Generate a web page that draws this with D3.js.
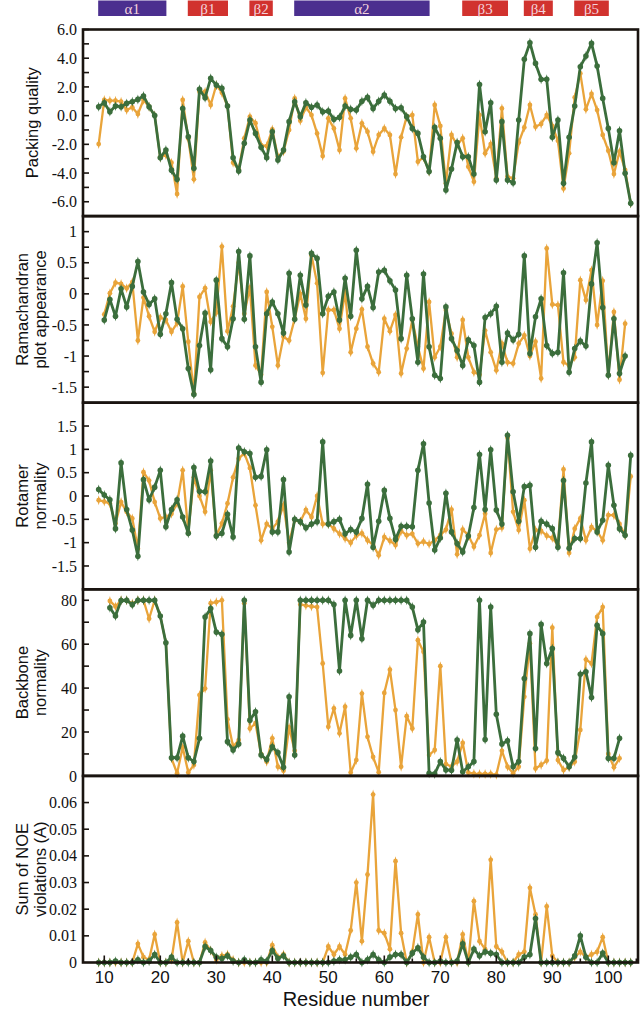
<!DOCTYPE html>
<html><head><meta charset="utf-8">
<script src="https://cdn.jsdelivr.net/npm/d3@7"></script>
<style>body{margin:0;background:#fff}</style>
</head><body><svg id="c" width="644" height="1009"></svg>
<script>
// ---------------- DATA ----------------
const residues = [9,10,11,12,13,14,15,16,17,18,19,20,21,22,23,24,25,26,27,28,29,30,31,32,33,34,35,36,37,38,39,40,41,42,43,44,45,46,47,48,49,50,51,52,53,54,55,56,57,58,59,60,61,62,63,64,65,66,67,68,69,70,71,72,73,74,75,76,77,78,79,80,81,82,83,84,85,86,87,88,89,90,91,92,93,94,95,96,97,98,99,100,101,102,103,104];

const packingGreen = [0.62,0.9,0.27,0.67,0.62,0.85,0.97,1.13,1.37,0.62,
0.0,-2.93,-2.4,-3.8,-4.44,0.5,-1.47,-3.67,1.83,1.25,
2.6,2.13,1.9,0.67,-2.93,-3.86,-1.93,-0.31,-1.24,-2.2,
-2.93,-1.12,-3.09,-2.4,-0.42,0.97,-0.07,0.9,0.58,0.74,
0.27,0.32,-0.26,-0.12,0.67,0.44,0.39,1.0,1.27,0.5,
1.0,1.44,1.0,0.5,0.55,-0.07,-0.89,-1.24,-2.86,-3.9,
-0.82,-1.58,-5.18,-3.72,-1.88,-2.86,-2.86,-4.07,2.17,-1.12,
0.9,-4.49,-0.42,-4.49,-4.68,-0.3,3.92,5.08,3.64,2.53,
2.53,-1.51,-0.3,-4.72,-1.51,0.67,3.41,4.15,5.03,3.46,
1.2,-0.89,-3.28,-1.05,-4.02,-6.11];
const packingOrange = [-1.98,1.09,1.04,1.04,0.97,0.39,0.58,0.11,1.09,0.62,
0.0,-2.9,-2.75,-3.28,-5.46,1.09,-1.6,-4.44,1.67,1.67,
0.74,2.13,1.6,0.67,-3.28,-3.75,-1.58,-0.07,-0.53,-2.05,
-2.12,-0.96,-2.86,-2.5,-1.0,1.2,-0.35,0.58,0.04,-1.24,
-2.82,-0.19,-0.89,-2.4,1.2,-0.19,-2.28,-0.54,-1.12,-2.51,
-1.35,-0.89,-1.35,-4.07,-1.51,-0.07,0.04,-3.21,-2.91,-3.9,
0.74,-0.72,-4.72,-1.35,-2.05,-1.58,-3.56,-4.6,0.04,-2.63,
-1.98,-4.37,0.5,-4.25,-4.37,-1.88,-0.82,0.74,-0.77,-0.58,
0.04,-0.72,-1.75,-5.07,-2.63,1.27,2.94,0.44,1.51,0.39,
-1.35,-2.44,-4.07,-2.51,-3.79,-6.11];

const ramaGreen = [null,-0.42,-0.09,-0.36,0.08,-0.21,0.12,0.52,0.03,-0.17,
-0.08,-0.65,-0.32,0.18,-0.41,-0.56,-1.2,-1.62,-0.83,-0.31,
-1.22,0.22,-0.72,-0.85,-0.4,0.68,-0.41,0.61,-0.85,-1.42,
-0.32,-0.13,-0.32,-0.63,0.33,-0.41,0.3,-0.18,0.65,0.57,
-0.32,-0.04,0.03,-0.42,0.25,-0.36,0.7,-0.08,0.12,-0.22,
0.35,0.38,0.21,0.06,-0.72,0.3,-0.4,-1.1,0.32,-0.85,
-1.31,-1.36,-0.21,-0.72,-0.91,-1.15,-0.74,-0.83,-1.42,-0.38,
-0.32,-0.2,-1.1,-0.63,-0.74,-0.65,0.61,-0.96,-0.37,-0.08,
-0.83,-0.96,-0.94,0.34,-1.26,-0.88,-0.76,-0.84,0.16,0.82,
-0.22,-1.31,-0.4,-1.28,-1.0,null];
const ramaOrange = [null,-0.33,0.01,0.18,0.16,0.09,0.19,-0.75,-0.06,-0.36,
-0.61,-0.38,-0.42,-0.61,-0.47,0.12,-0.77,-1.6,-0.05,0.09,
-0.45,-0.3,0.76,-0.6,-0.2,0.5,-0.32,0.1,-1.15,-1.3,
0.03,-0.53,-1.15,-0.69,-0.75,-0.4,0.0,-0.4,0.62,0.17,
-1.27,-0.26,-0.26,-0.56,0.03,-0.94,-0.56,-0.25,-0.85,-1.12,
-1.26,-0.4,-0.6,-0.34,-1.28,-0.88,-0.42,-0.85,-1.2,-0.13,
-1.02,-0.85,-0.26,-0.64,-1.02,-0.42,-1.02,-1.26,-1.3,-0.59,
-0.94,-1.23,-0.8,-1.1,-1.12,-0.8,-0.67,-1.0,-0.77,-1.36,
0.73,-0.17,-0.18,-1.1,-1.15,-1.02,0.22,-0.1,0.38,-0.5,
0.21,-1.3,-0.29,-1.38,-0.48,null];

const rotaGreen = [0.14,0.02,-0.08,-0.7,0.71,-0.29,-0.73,-1.29,0.35,-0.08,
0.19,0.55,-0.66,-0.29,-0.08,-0.45,-0.8,0.61,0.1,0.09,
0.75,-0.86,-0.8,-0.39,-0.88,1.03,0.95,0.91,0.4,0.42,
0.99,-0.77,-0.77,0.35,-1.2,-0.5,-0.55,-0.68,-0.6,-0.55,
1.16,-0.6,-0.55,-0.5,-0.81,-0.72,-0.77,-0.48,0.25,-1.1,
-0.54,0.12,-0.48,-0.93,-0.65,-0.65,-0.66,0.55,1.12,-0.15,
-1.16,-0.9,0.06,-0.77,-1.02,-1.2,-0.86,-0.25,0.89,-0.29,
0.99,-0.3,-0.6,1.3,0.09,-0.54,0.2,0.23,-1.1,-0.54,
-0.6,-0.7,-1.1,0.33,-1.12,-0.91,-0.91,0.28,1.16,-0.77,
-0.52,0.66,-0.2,-0.7,-0.84,0.87];
const rotaOrange = [-0.09,-0.12,-0.16,-0.59,-0.13,-0.34,-0.48,-1.13,0.51,0.33,
-0.13,-0.48,-0.45,-0.38,-0.16,0.55,-0.77,0.4,0.0,-0.34,
0.55,-0.84,-0.59,-0.16,0.4,0.8,0.92,0.6,-0.2,-0.95,
-0.6,-0.7,-0.55,-0.2,-1.0,-0.52,-0.55,-0.3,-0.45,0.0,
-0.6,-0.6,-0.7,-0.81,-0.91,-1.0,-0.85,-0.8,-0.95,-1.05,
-1.27,-0.88,-0.96,-1.05,-0.75,-0.84,-0.81,-1.02,-0.98,-1.03,
-0.95,-0.84,-0.72,-0.29,-1.25,-0.72,-0.84,-1.09,-0.84,-0.38,
-1.22,-0.72,-0.68,1.25,-0.34,-0.73,-0.09,-1.13,-0.73,-0.75,
-0.85,-0.9,-1.05,0.57,-1.22,-0.7,-0.48,-0.95,-0.67,-0.75,
-0.95,-0.41,-0.41,-0.6,-0.84,0.42];

const backboneGreen = [null,null,76.6,72.8,79.9,80,78,80,80,80,
80,72.8,60.6,8.3,8.3,18.1,8.3,6.5,17.1,72.4,
76.2,65.5,64.5,15.6,11.8,14.5,80,25.4,29.2,9.5,
7.5,13.3,10.6,3.9,36,9.5,80,80,80,80,
80,80,78.1,47.8,80,64,80,62.5,80,77.7,
80,80,80,80,80,80,76.9,66.6,70.1,1.2,
0.9,6.5,2.7,2.6,16.3,1.9,4.2,6.5,80,16.6,
76.9,28.1,14.5,16,4.2,6.5,44.4,64.8,12.5,69,
51.2,58,10.6,8,4.2,8.6,46.3,47.4,35.7,68.6,
64.8,8,8,17.1,null,null];
const backboneOrange = [null,null,79.7,77.2,80,80,78.5,80,80,71.6,
80,72.8,60.6,8,1.2,13,1.5,5,36.8,39.8,
78.7,79.2,80,25.7,13.3,16.3,78.7,21.6,24,10,
6.5,17.1,4.2,2.4,22.1,11.4,78.1,77.6,77.2,76.9,
51.2,22.4,30.7,19.4,31.5,1.5,7.2,37.5,17.8,8.6,
1.7,37.8,48.4,30,4.2,27.2,21.6,61.8,56.5,9.5,
11.8,50,5.4,4.2,6.5,15,1.5,1,0.9,0.9,
0.9,0.5,11.4,4.2,1.2,4.2,36,60.3,3.4,5,
7,67.5,7.2,2.7,3.9,6.5,20.9,53,51.2,72.4,
76.9,10,3.9,8,null,null];

const noeGreen = [0,0,0,0.0005,0,0,0,0.001,0,0.0005,
0.003,0,0,0.002,0,0,0,0,0,0.006,
0.0045,0.002,0.0015,0.0025,0.0005,0,0.001,0,0,0.001,
0.0005,0.0045,0.0015,0.0025,0,0,0,0,0,0,
0,0,0.0005,0.001,0.001,0.002,0.003,0,0.001,0.003,
0.001,0,0.002,0.003,0.003,0,0.0035,0.0055,0.002,0,
0,0.0005,0,0,0.0005,0.007,0,0.005,0.0025,0.004,
0.0035,0.003,0,0,0,0,0.002,0.003,0.0165,0,
0,0,0,0,0,0.0025,0.01,0.002,0,0,
0.0035,0,0,0,0,0];
const noeOrange = [0,0,0,0,0,0,0,0.007,0.002,0.001,
0.0105,0,0,0.001,0.015,0,0.008,0,0,0.0075,
0.0045,0.001,0.0025,0.003,0.001,0,0,0,0,0,
0,0.0065,0.002,0.003,0,0,0,0,0,0,
0,0.006,0.003,0.006,0.003,0.012,0.03,0.008,0.033,0.063,
0.012,0.011,0.005,0.038,0.011,0,0.004,0.018,0,0.0095,
0,0,0.0095,0,0,0.0105,0,0.023,0.008,0.005,
0.0385,0.006,0.004,0,0,0.003,0.004,0.028,0.018,0,
0.021,0.0025,0,0,0,0.002,0.004,0.002,0.003,0.004,
0.0095,0,0,0,0,0];

const packingTicks = [-6,-4,-2,0,2,4,6];
const ramaTicks = [-1.5,-1,-0.5,0,0.5,1];
const rotaTicks = [-1.5,-1,-0.5,0,0.5,1,1.5];
const backboneTicks = [0,20,40,60,80];
const noeTicks = [0,0.01,0.02,0.03,0.04,0.05,0.06];
const xTicks = [10,20,30,40,50,60,70,80,90,100];

const ssLabels = ["α1","β1","β2","α2","β3","β4","β5"];
const ssStart = [9,25,36,44,74,85,94];
const ssEnd = [21,32,40,68,82,90,100];
const ssType = ["helix","strand","strand","helix","strand","strand","strand"];

// ---------------- DRAW ----------------
const svg = d3.select("#c");
const green = "#3b6e3c", orange = "#e9a43a";
const x = d3.scaleLinear().domain([6.2, 105.3]).range([83, 638]);
const top0 = 29.5, ph = 186.6;

const hy = s => String(s).replace("\u2212","-");
const panels = [
  {title:["Packing quality"], dom:[-7,6], minor:d3.range(-6,6.01,1), lab:packingTicks, fmt:d=>hy(d3.format(".1f")(d)), g:packingGreen, o:packingOrange},
  {title:["Ramachandran","plot appearance"], dom:[-1.75,1.25], minor:d3.range(-1.5,1.01,0.25), lab:ramaTicks, fmt:d=>hy(d3.format("")(d)), g:ramaGreen, o:ramaOrange},
  {title:["Rotamer","normality"], dom:[-2,2], minor:d3.range(-1.5,1.51,0.5), lab:rotaTicks, fmt:d=>hy(d3.format("")(d)), g:rotaGreen, o:rotaOrange},
  {title:["Backbone","normality"], dom:[0,85], minor:d3.range(10,80.1,10), lab:backboneTicks, fmt:d=>String(d), g:backboneGreen, o:backboneOrange},
  {title:["Sum of NOE","violations (A)"], dom:[0,0.07], minor:d3.range(0.01,0.0601,0.01), lab:noeTicks, fmt:d=>d===0?"0":d3.format(".2f")(d), g:noeGreen, o:noeOrange}
];

// secondary structure boxes
ssLabels.forEach((l,i)=>{
  const x0 = x(ssStart[i])-0.5, x1 = x(ssEnd[i])+0.5;
  svg.append("rect").attr("x",x0).attr("y",0.5).attr("width",x1-x0).attr("height",15.5)
    .attr("fill", ssType[i]==="helix" ? "#4b2f8f" : "#d1322e");
  svg.append("text").attr("x",(x0+x1)/2).attr("y",13.5).attr("text-anchor","middle")
    .attr("font-family","Liberation Serif, serif").attr("font-size",15)
    .attr("fill","#f3d3dc").text(l);
});

panels.forEach((p,k)=>{
  const t = top0 + k*ph, b = t + ph;
  const y = d3.scaleLinear().domain(p.dom).range([b, t]);
  const g = svg.append("g");
  p.minor.forEach(v=>{
    g.append("line").attr("x1",83).attr("x2",89).attr("y1",y(v)).attr("y2",y(v))
      .attr("stroke","#1a1410").attr("stroke-width",1.6);
  });
  p.lab.forEach(v=>{
    g.append("text").attr("x",77).attr("y",y(v)).attr("dy","0.35em")
      .attr("text-anchor","end").attr("font-family","Liberation Serif, serif")
      .attr("font-size",16).attr("fill","#111").text(p.fmt(v));
  });
  const cy = (t+b)/2;
  const lines = p.title;
  const bx = lines.length===1 ? [38] : [28,46];
  lines.forEach((ln,i)=>{
    g.append("text").attr("transform",`translate(${bx[i]},${cy}) rotate(-90)`)
      .attr("text-anchor","middle").attr("font-family","Liberation Sans, Arial, sans-serif")
      .attr("font-size",16.5).attr("fill","#111").text(ln);
  });
  const mk = arr => residues.map((r,i)=>({r, v:arr[i]}));
  const line = d3.line().defined(d=>d.v!=null).x(d=>x(d.r)).y(d=>y(d.v));
  [[p.o, orange, 2.3, 2.4],[p.g, green, 2.8, 2.8]].forEach(([arr,col,lw,rad])=>{
    const data = mk(arr);
    g.append("path").datum(data).attr("d",line).attr("fill","none")
      .attr("stroke",col).attr("stroke-width",lw).attr("stroke-linejoin","round");
    const pts = data.filter(d=>d.v!=null);
    g.selectAll(null).data(pts).enter().append("path")
      .attr("d",d=>{const cx=x(d.r), c=y(d.v); return `M${cx},${c-5}L${cx+1.4},${c}L${cx},${c+5}L${cx-1.4},${c}Z`;})
      .attr("fill",col);
    g.selectAll(null).data(pts).enter().append("circle")
      .attr("cx",d=>x(d.r)).attr("cy",d=>y(d.v)).attr("r",rad).attr("fill",col);
  });
  svg.append("rect").attr("x",83).attr("y",t).attr("width",638-83).attr("height",ph)
    .attr("fill","none").attr("stroke","#1a1410").attr("stroke-width",2.6);
});

// x axis (bottom)
const yb = top0 + 5*ph;
d3.range(10,105.1,5).forEach(v=>{
  const major = v%10===0;
  svg.append("line").attr("x1",x(v)).attr("x2",x(v)).attr("y1",yb).attr("y2",yb-(major?7:4))
    .attr("stroke","#1a1410").attr("stroke-width",1.6);
});
xTicks.forEach(v=>{
  svg.append("text").attr("x",x(v)).attr("y",yb+20).attr("text-anchor","middle")
    .attr("font-family","Liberation Sans, Arial, sans-serif").attr("font-size",17)
    .attr("fill","#111").text(v);
});
svg.append("text").attr("x",356).attr("y",1006).attr("text-anchor","middle")
  .attr("font-family","Liberation Sans, Arial, sans-serif").attr("font-size",20)
  .attr("fill","#111").text("Residue number");
</script>
</body></html>
